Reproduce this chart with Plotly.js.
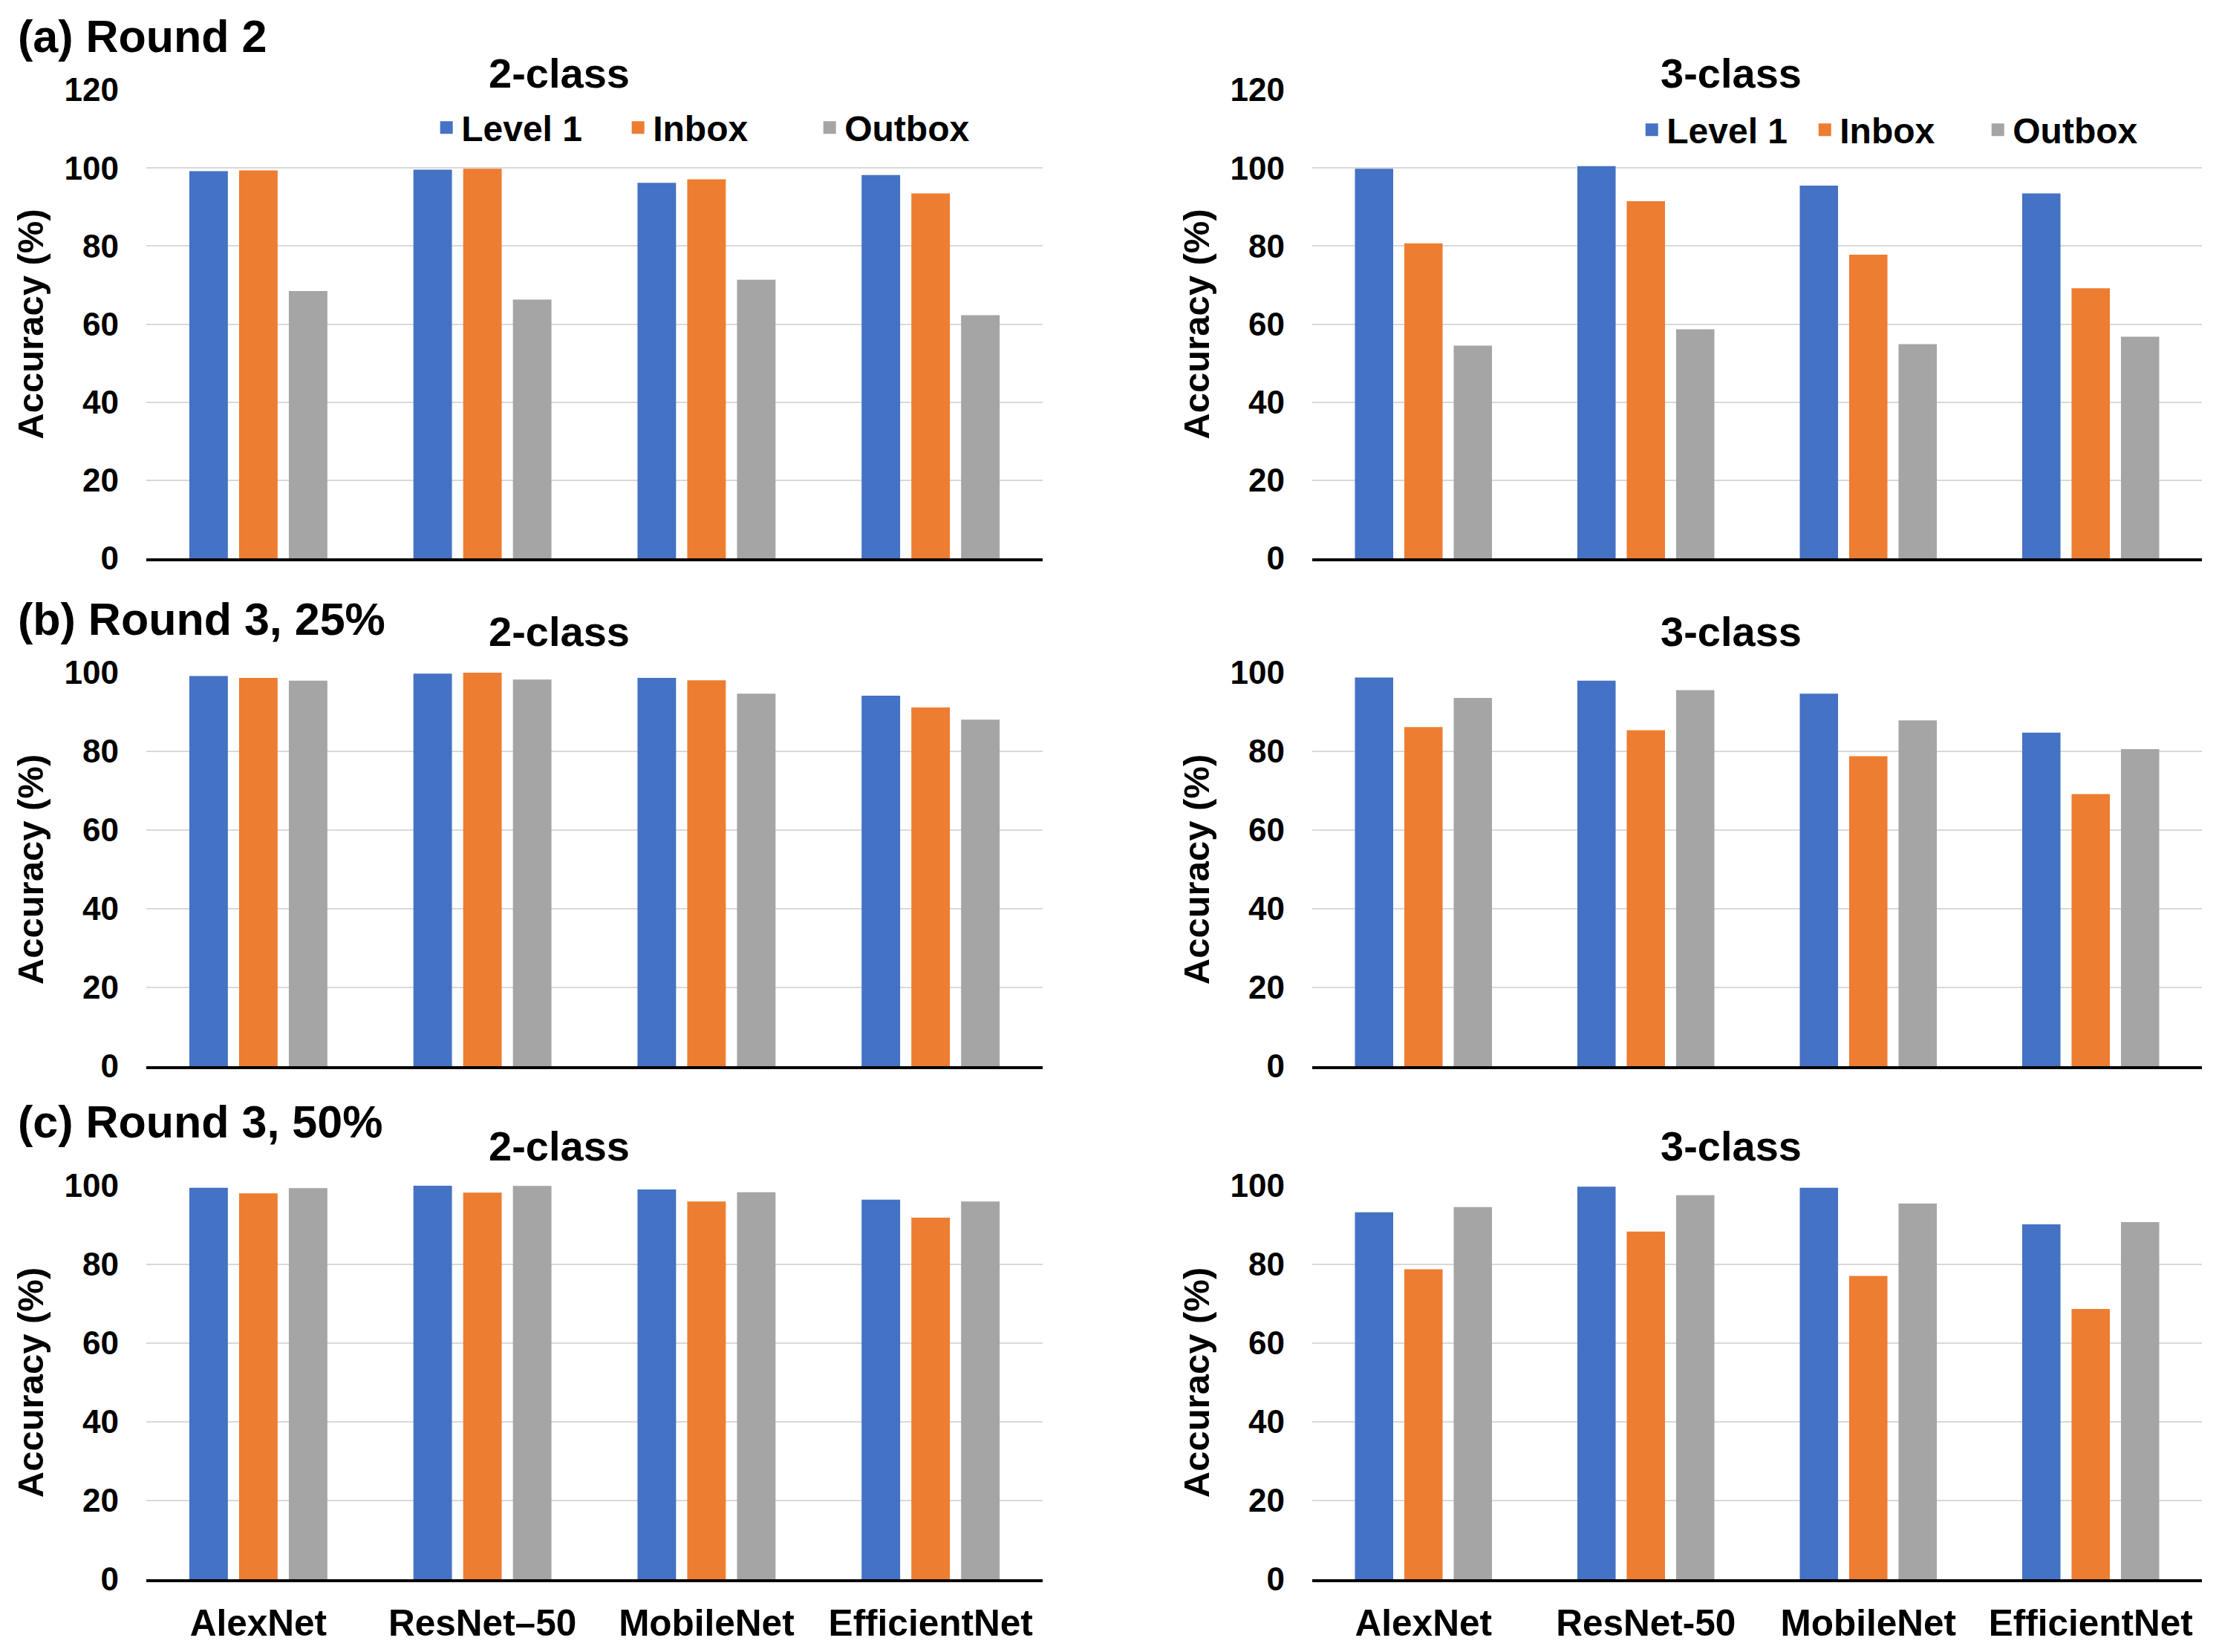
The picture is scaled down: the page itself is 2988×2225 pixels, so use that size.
<!DOCTYPE html>
<html>
<head>
<meta charset="utf-8">
<script src="https://cdn.plot.ly/plotly-3.0.1.min.js"></script>
<style>html,body{margin:0;padding:0;background:#fff;}#chart{width:2988px;height:2225px;}</style>
</head>
<body>
<div id="chart"></div>
<script>
// ---- Data ----
const seriesNames = ['Level 1', 'Inbox', 'Outbox'];
const categories2class = ['AlexNet', 'ResNet–50', 'MobileNet', 'EfficientNet'];
const categories3class = ['AlexNet', 'ResNet-50', 'MobileNet', 'EfficientNet'];
const panelLabels = ['(a) Round 2', '(b) Round 3, 25%', '(c) Round 3, 50%'];
const subplotTitles = ['2-class', '3-class'];

// (a) Round 2
const r2_2class_level1 = [98.7, 99.1, 95.7, 97.7];
const r2_2class_inbox  = [98.9, 99.3, 96.6, 93.0];
const r2_2class_outbox = [68.0, 65.8, 70.9, 61.8];
const r2_3class_level1 = [99.3, 100.0, 95.0, 93.0];
const r2_3class_inbox  = [80.2, 91.0, 77.3, 68.7];
const r2_3class_outbox = [54.0, 58.2, 54.4, 56.3];
// (b) Round 3, 25%
const r3q_2class_level1 = [98.7, 99.3, 98.2, 93.7];
const r3q_2class_inbox  = [98.2, 99.7, 97.6, 90.7];
const r3q_2class_outbox = [97.5, 97.8, 94.2, 87.6];
const r3q_3class_level1 = [98.3, 97.5, 94.2, 84.3];
const r3q_3class_inbox  = [85.7, 84.9, 78.3, 68.7];
const r3q_3class_outbox = [93.1, 95.1, 87.4, 80.1];
// (c) Round 3, 50%
const r3h_2class_level1 = [99.0, 99.8, 98.6, 96.0];
const r3h_2class_inbox  = [97.6, 97.8, 95.5, 91.4];
const r3h_2class_outbox = [98.9, 99.5, 97.9, 95.5];
const r3h_3class_level1 = [92.8, 99.3, 99.0, 89.7];
const r3h_3class_inbox  = [78.3, 87.9, 76.6, 68.2];
const r3h_3class_outbox = [94.1, 97.1, 95.0, 90.3];

const yTicks120 = [0, 20, 40, 60, 80, 100, 120];
const yTicks100 = [0, 20, 40, 60, 80, 100];

// ---- Styling ----
const colors = ['#4472C4', '#ED7D31', '#A5A5A5'];
const FONT = 'Liberation Sans, Arial, Helvetica, sans-serif';
const W = 2988, H = 2225;

const panels = [
  {cats: categories2class, series: [r2_2class_level1, r2_2class_inbox, r2_2class_outbox], row: 0, col: 0, legend: 'legend'},
  {cats: categories3class, series: [r2_3class_level1, r2_3class_inbox, r2_3class_outbox], row: 0, col: 1, legend: 'legend2'},
  {cats: categories2class, series: [r3q_2class_level1, r3q_2class_inbox, r3q_2class_outbox], row: 1, col: 0},
  {cats: categories3class, series: [r3q_3class_level1, r3q_3class_inbox, r3q_3class_outbox], row: 1, col: 1},
  {cats: categories2class, series: [r3h_2class_level1, r3h_2class_inbox, r3h_2class_outbox], row: 2, col: 0},
  {cats: categories3class, series: [r3h_3class_level1, r3h_3class_inbox, r3h_3class_outbox], row: 2, col: 1}
];

// pixel geometry (from top-left)
const colX = [[197, 1404], [1767, 2965]];
const rowY = [[121, 752], [906, 1436], [1597, 2127]];
const rowMax = [120, 100, 100];

const legendFont = {family: FONT, size: 48, weight: 700, color: '#000'};
const traces = [];
const layout = {
  width: W, height: H,
  margin: {l: 0, r: 0, t: 0, b: 0},
  paper_bgcolor: '#ffffff', plot_bgcolor: '#ffffff',
  barmode: 'group', bargap: 0.334, bargroupgap: 0.30,
  font: {family: FONT, color: '#000000', size: 44, weight: 700},
  showlegend: true,
  legend: {orientation: 'h', x: 0.1945, y: 1 - 172 / H, xanchor: 'left', yanchor: 'middle',
           bgcolor: 'rgba(0,0,0,0)', font: legendFont,
           entrywidth: 213, entrywidthmode: 'pixels', traceorder: 'normal'},
  legend2: {orientation: 'h', x: 0.7377, y: 1 - 175 / H, xanchor: 'left', yanchor: 'middle',
           bgcolor: 'rgba(0,0,0,0)', font: legendFont,
           entrywidth: 188, entrywidthmode: 'pixels', traceorder: 'normal'},
  annotations: []
};

panels.forEach((p, i) => {
  const n = i + 1;
  const xa = 'x' + (n === 1 ? '' : n), ya = 'y' + (n === 1 ? '' : n);
  p.series.forEach((vals, s) => {
    traces.push({
      type: 'bar', x: p.cats, y: vals, name: seriesNames[s],
      xaxis: xa, yaxis: ya,
      marker: {color: colors[s], line: {width: 5, color: colors[s]}},
      showlegend: !!p.legend, legend: p.legend || 'legend',
      hoverinfo: 'x+y+name'
    });
  });
  const [x0, x1] = colX[p.col];
  const [y0, y1] = rowY[p.row];
  const xKey = 'xaxis' + (n === 1 ? '' : n), yKey = 'yaxis' + (n === 1 ? '' : n);
  layout[xKey] = {
    domain: [x0 / W, x1 / W], anchor: ya, type: 'category',
    showline: true, linecolor: '#000000', linewidth: 4,
    showgrid: false, zeroline: false, ticks: '',
    showticklabels: p.row === 2, ticklabelstandoff: 13,
    tickfont: {family: FONT, size: 49.5, weight: 700, color: '#000'},
    fixedrange: true
  };
  layout[yKey] = {
    domain: [1 - y1 / H, 1 - y0 / H], anchor: xa,
    range: [0, rowMax[p.row]],
    tickmode: 'array', tickvals: p.row === 0 ? yTicks120 : yTicks100,
    showgrid: true, gridcolor: '#D9D9D9', gridwidth: 2,
    zeroline: false, showline: false, ticks: '',
    ticklabelstandoff: 36,
    tickfont: {family: FONT, size: 44, weight: 700, color: '#000'},
    title: {text: 'Accuracy (%)', standoff: 12, font: {family: FONT, size: 49, weight: 700, color: '#000'}},
    fixedrange: true
  };
});

// panel labels
const panelLabelY = [49, 834, 1511];
panelLabels.forEach((t, r) => {
  layout.annotations.push({text: t, xref: 'paper', yref: 'paper', x: 22 / W, y: 1 - panelLabelY[r] / H,
    xanchor: 'left', yanchor: 'middle', showarrow: false,
    font: {family: FONT, size: 61, weight: 700, color: '#000'}});
});
// subplot titles
const titleY = [98, 850, 1544];
const titleX = [753, 2331];
for (let r = 0; r < 3; r++) {
  for (let c = 0; c < 2; c++) {
    layout.annotations.push({text: subplotTitles[c], xref: 'paper', yref: 'paper', x: titleX[c] / W, y: 1 - titleY[r] / H,
      xanchor: 'center', yanchor: 'middle', showarrow: false,
      font: {family: FONT, size: 56, weight: 700, color: '#000'}});
  }
}

Plotly.newPlot('chart', traces, layout, {staticPlot: true, displayModeBar: false});
</script>
</body>
</html>
